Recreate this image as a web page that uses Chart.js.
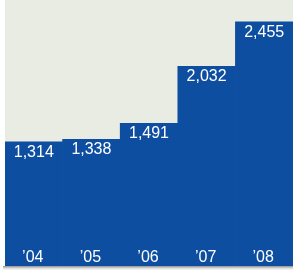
<!DOCTYPE html>
<html>
<head>
<meta charset="utf-8">
<script src="https://cdn.jsdelivr.net/npm/chart.js@4/dist/chart.umd.min.js"></script>
<style>
html,body{margin:0;padding:0;background:#ffffff;}
#wrap{width:293px;height:270px;position:relative;}
</style>
</head>
<body>
<div id="wrap"><canvas id="c" width="293" height="270"></canvas></div>
<script>
const categories = ['\u201904', '\u201905', '\u201906', '\u201907', '\u201908'];
const values = [1314, 1338, 1491, 2032, 2455];
const valueLabels = ['1,314', '1,338', '1,491', '2,032', '2,455'];

const FONT = '16px "Liberation Sans", Arial, Helvetica, sans-serif';

const panelPlugin = {
  id: 'panel',
  beforeDraw(chart) {
    const ctx = chart.ctx, a = chart.chartArea;
    ctx.save();
    const g = ctx.createLinearGradient(0, a.bottom, 0, a.bottom + 4);
    g.addColorStop(0, 'rgba(120,120,120,0.85)');
    g.addColorStop(1, 'rgba(200,200,200,0.1)');
    ctx.fillStyle = g;
    ctx.fillRect(a.left - 2, a.bottom, a.right - a.left + 2, 4);
    ctx.fillStyle = '#e9ece3';
    ctx.fillRect(a.left, a.top, a.right - a.left, a.bottom - a.top);
    ctx.restore();
  },
  afterDatasetsDraw(chart) {
    const ctx = chart.ctx, a = chart.chartArea;
    const meta = chart.getDatasetMeta(0);
    const xs = chart.scales.x;
    ctx.save();
    ctx.font = FONT;
    ctx.fillStyle = '#ffffff';
    ctx.textAlign = 'center';
    ctx.textBaseline = 'alphabetic';
    meta.data.forEach((bar, i) => {
      ctx.fillText(valueLabels[i], bar.x, bar.y + 15);
      ctx.fillText(categories[i], xs.getPixelForValue(i) - 1, a.bottom - 4);
    });
    ctx.restore();
  }
};

new Chart(document.getElementById('c'), {
  type: 'bar',
  data: {
    labels: categories,
    datasets: [{
      data: values,
      backgroundColor: '#0d4ea1',
      borderWidth: 0,
      barPercentage: 1,
      categoryPercentage: 1
    }]
  },
  options: {
    responsive: false,
    animation: false,
    devicePixelRatio: 1,
    layout: { padding: { left: 5, right: 0, top: 0, bottom: 4 } },
    plugins: { legend: { display: false }, tooltip: { enabled: false } },
    scales: {
      x: { display: false, offset: true },
      y: { display: false, min: 135, max: 2663 }
    }
  },
  plugins: [panelPlugin]
});
</script>
</body>
</html>
